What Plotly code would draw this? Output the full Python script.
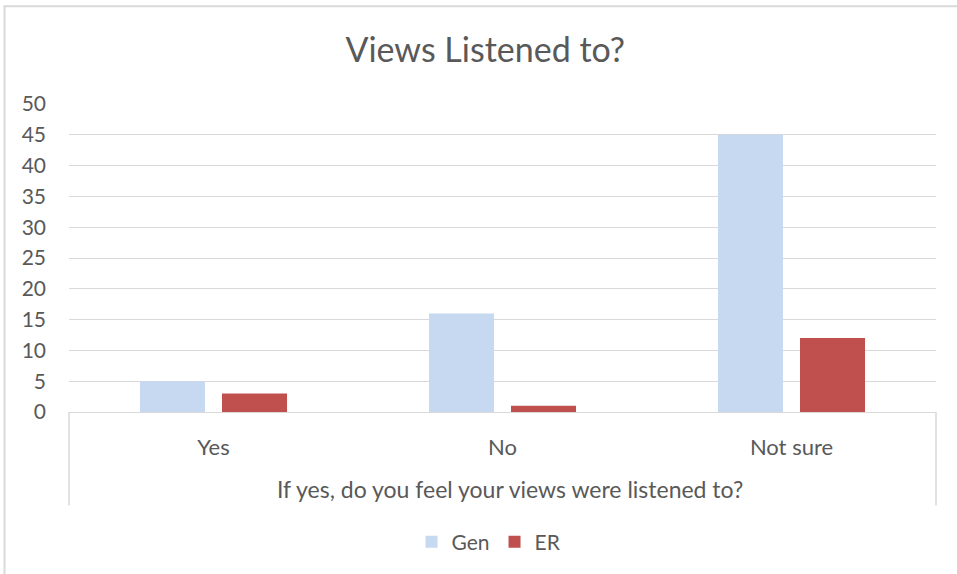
import plotly.graph_objects as go

# Survey responses
categories = ["Yes", "No", "Not sure"]
gen_values = [5, 16, 45]
er_values = [3, 1, 12]
y_ticks = [0, 5, 10, 15, 20, 25, 30, 35, 40, 45, 50]

TEXT = "#595959"
GRID = "#D9D9D9"
FONT = "Lato"

fig = go.Figure()
fig.add_trace(go.Bar(name="Gen", x=categories, y=gen_values,
                     marker=dict(color="#C6D9F1", line=dict(width=0))))
fig.add_trace(go.Bar(name="ER", x=categories, y=er_values,
                     marker=dict(color="#C0504D", line=dict(width=0))))

W, H = 957, 574
L, R, T, B = 69, 21, 104, 160
pw, ph = W - L - R, H - T - B


def px_x(px):
    return (px - L) / pw


def px_y(py):
    return (H - B - py) / ph


fig.update_layout(
    width=W, height=H,
    margin=dict(l=L, r=R, t=T, b=B),
    paper_bgcolor="white", plot_bgcolor="white",
    font=dict(family=FONT, color=TEXT, size=21),
    barmode="group", bargap=0.4325, bargroupgap=0.207,
    title=dict(text="Views Listened to?", x=0.507, xanchor="center",
               y=1 - 50 / H, yanchor="middle", yref="container",
               font=dict(family=FONT, size=34, color=TEXT)),
    xaxis=dict(showgrid=False, showline=True, linecolor=GRID, linewidth=1,
               ticks="", tickfont=dict(size=22, color=TEXT),
               ticklabelstandoff=16),
    yaxis=dict(range=[0, 50], tickvals=y_ticks, showgrid=True,
               gridcolor=GRID, gridwidth=1, zeroline=False, showline=False,
               ticks="", tickfont=dict(size=21, color=TEXT),
               ticklabelstandoff=22),
    legend=dict(orientation="h", x=px_x(489), xanchor="center",
                y=px_y(545), yanchor="middle",
                font=dict(size=21, color=TEXT), itemwidth=30,
                traceorder="normal"),
    showlegend=True,
)

# outer category label of the two-level axis
fig.add_annotation(text="If yes, do you feel your views were listened to?",
                   xref="paper", yref="paper", x=px_x(510), y=px_y(491),
                   xanchor="center", yanchor="middle", showarrow=False,
                   font=dict(size=23, color=TEXT))

# group separators of the category axis
for xp in (69, 936):
    fig.add_shape(type="line", xref="paper", yref="paper",
                  x0=px_x(xp), x1=px_x(xp), y0=0, y1=px_y(508),
                  line=dict(color=GRID, width=1.5))

# chart frame
fig.add_shape(type="rect", xref="paper", yref="paper",
              x0=px_x(4.5), x1=px_x(1000), y0=px_y(700), y1=px_y(5.5),
              line=dict(color=GRID, width=2), layer="below")

fig.write_html("out.html")
